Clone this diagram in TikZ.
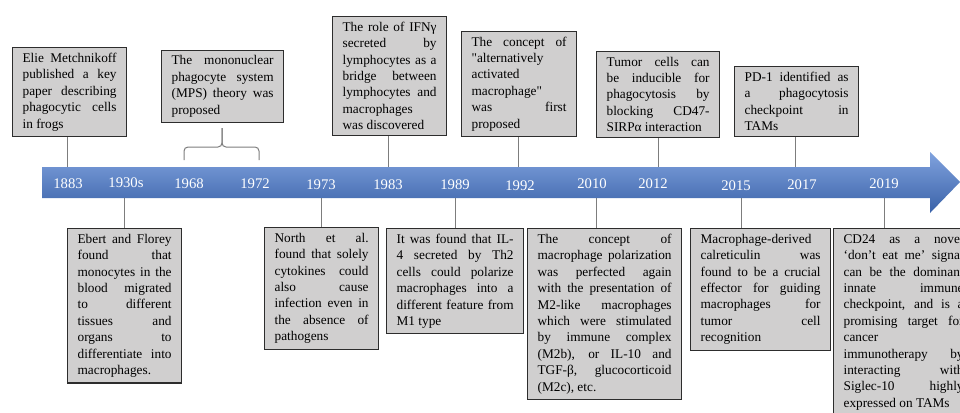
\documentclass[tikz,border=0pt]{standalone}
\usepackage{fontspec}
\setmainfont{Liberation Serif}

\definecolor{boxfill}{RGB}{208,207,207}
\definecolor{boxline}{RGB}{45,45,45}
\definecolor{linkgray}{RGB}{125,125,125}
\definecolor{bandlight}{RGB}{128,162,222}
\definecolor{banddark}{RGB}{58,98,168}

\newcommand{\evfont}{\fontsize{13.3}{16.4}\selectfont\parindent=0pt\tolerance=10000\hyphenpenalty=10000}
\newcommand{\yrfont}{\fontsize{14.7}{16}\selectfont}

\tikzset{
	event/.style={draw=boxline, fill=boxfill, line width=1.2pt, inner xsep=10pt, inner ysep=5.5pt, align=justify, font=\evfont, text width=94pt},
	eventup/.style={event, anchor=south west},
	eventdown/.style={event, anchor=north west},
	year/.style={text=white, font=\yrfont, anchor=base, inner sep=0pt},
	link/.style={draw=linkgray, line width=1pt}
}

\begin{document}
\begin{tikzpicture}[x=1pt, y=-1pt]
		\useasboundingbox (0,0) rectangle (960,412);
		\clip (0,0) rectangle (960,412);
		% timeline band
		\shade[top color=bandlight, bottom color=banddark] (42,167) -- (930,167) -- (930,152) -- (960,182) -- (930,213) -- (930,198) -- (42,198) -- cycle;
		\foreach \yr/\x/\y in {1883/68/188, 1930s/126/187, 1968/189/188, 1972/255/188, 1973/321/189, 1983/388/189, 1989/455/189, 1992/520/190, 2010/592/188, 2012/653/188, 2015/736/190, 2017/802/189, 2019/884/188}
		\node[year] (y\yr) at (\x,\y) {\yr};
		% events above
		\node[eventup] (metch) at (12,137) {Elie Metchnikoff\linebreak published a key\linebreak paper describing\linebreak phagocytic cells\linebreak in frogs};
		\node[eventup, text width=102pt] (mps) at (161,123) {The mononuclear\linebreak phagocyte system\linebreak (MPS) theory was\linebreak proposed};
		\node[eventup] (ifn) at (332,136) {The role of IFNγ\linebreak secreted by\linebreak lymphocytes as a\linebreak bridge between\linebreak lymphocytes and\linebreak macrophages\linebreak was discovered};
		\node[eventup, text width=95pt] (alt) at (461,137) {The concept of\linebreak \textquotedbl alternatively\linebreak activated\linebreak macrophage\textquotedbl\linebreak was first\linebreak proposed};
		\node[eventup, text width=103pt] (cd47) at (596,138) {Tumor cells can\linebreak be inducible for\linebreak phagocytosis by\linebreak blocking CD47-\linebreak SIRPα interaction};
		\node[eventup, text width=104pt] (pd1) at (734,137) {PD-1 identified as\linebreak a phagocytosis\linebreak checkpoint in\linebreak TAMs};
		% events below
		\node[eventdown] (ebert) at (67,228) {Ebert and Florey\linebreak found that\linebreak monocytes in the\linebreak blood migrated\linebreak to different\linebreak tissues and\linebreak organs to\linebreak differentiate into\linebreak macrophages.};
		\node[eventdown] (north) at (264,227) {North et al.\linebreak found that solely\linebreak cytokines could\linebreak also cause\linebreak infection even in\linebreak the absence of\linebreak pathogens};
		\node[eventdown, text width=117pt] (il4) at (386,228) {It was found that IL-\linebreak 4 secreted by Th2\linebreak cells could polarize\linebreak macrophages into a\linebreak different feature from\linebreak M1 type};
		\node[eventdown, text width=134pt] (polar) at (527,228) {The concept of\linebreak macrophage polarization\linebreak was perfected again\linebreak with the presentation of\linebreak M2-like macrophages\linebreak which were stimulated\linebreak by immune complex\linebreak (M2b), or IL-10 and\linebreak TGF-β, glucocorticoid\linebreak (M2c), etc.};
		\node[eventdown, text width=120pt] (calr) at (690,228) {Macrophage-derived\linebreak calreticulin was\linebreak found to be a crucial\linebreak effector for guiding\linebreak macrophages for\linebreak tumor cell\linebreak recognition};
		\node[eventdown, text width=120pt] (cd24) at (833,228) {CD24 as a novel\linebreak `don't eat me' signal\linebreak can be the dominant\linebreak innate immune\linebreak checkpoint, and is a\linebreak promising target for\linebreak cancer\linebreak immunotherapy by\linebreak interacting with\linebreak Siglec-10 highly\linebreak expressed on TAMs};
		% connectors
		\foreach \name/\x in {metch/67, ifn/388, alt/518, cd47/658, pd1/795} {
			\coordinate (c\name) at (\x,167);
			\draw[link] (c\name) -- (c\name |- \name.south);
		}
		\foreach \name/\x in {ebert/124, north/321, il4/455, polar/596, calr/741, cd24/884} {
			\coordinate (c\name) at (\x,198);
			\draw[link] (c\name) -- (c\name |- \name.north);
		}
		% brace 1968-1972
		\coordinate (brl) at (184,160);
		\coordinate (brr) at (259,160);
		\coordinate (brtip) at (222,128);
		\draw[link, rounded corners=4pt] (brl) |- (brtip |- 0,147) -- (brtip);
		\draw[link, rounded corners=4pt] (brr) |- (brtip |- 0,147) -- (brtip);
	\end{tikzpicture}
\end{document}
